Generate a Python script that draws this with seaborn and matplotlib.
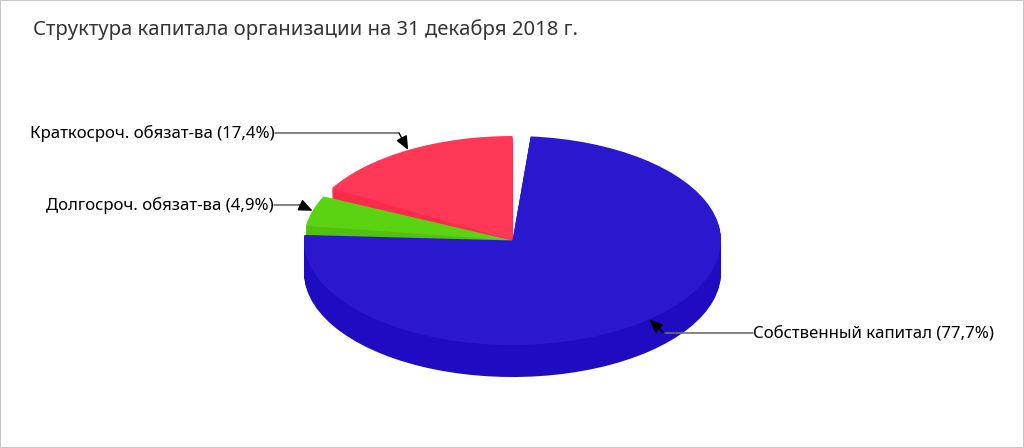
import numpy as np
import matplotlib
matplotlib.use("Agg")
import matplotlib.pyplot as plt
import seaborn as sns

# Chart data
title = "Структура капитала организации на 31 декабря 2018 г."
labels = ["Краткосроч. обязат-ва", "Долгосроч. обязат-ва", "Собственный капитал"]
shares = [17.4, 4.9, 77.7]
top_colors = ["#FF3857", "#5CD312", "#2A18CE"]
side_colors = ["#FF2A4B", "#52C00C", "#1F0BC1"]

# Geometry of the tilted pie, in pixels
W, H = 1024, 448
CX, CY = 512.5, 240.5
RX, RY = 208.5, 104.5
DEPTH = 32
GAP = 5  # degrees left empty after each slice

# Where each label line starts and where it bends
label_ends = [(275, 133), (274, 205), (753, 333)]
elbows = [(399, 133), (300, 205), (664, 333)]
label_ha = ["right", "right", "left"]

sns.set_theme(style="white")
plt.rcParams["font.family"] = ["Noto Sans", "DejaVu Sans"]


def to_data(px, py):
    """Convert picture pixels into the pie's data units."""
    return (px - CX) / RX, (CY - py) / RY


# Slices share 360 degrees minus the gaps, with an empty wedge after each one
scaled = [s * (360 - GAP * len(shares)) / sum(shares) for s in shares]
sizes = [v for s in scaled for v in (s, GAP)]


def draw_slice(ax, index, color, drop=0):
    colors = ["none"] * len(sizes)
    colors[index * 2] = color
    ax.pie(sizes, colors=colors, startangle=90, center=(0, -drop / RY), radius=1,
           wedgeprops={"linewidth": 0})


fig = plt.figure(figsize=(W / 100, H / 100), dpi=100, facecolor="white",
                 edgecolor="#C8C8C8", linewidth=1.44)
ax = fig.add_axes([0, 0, 1, 1])

# Side walls first, then the top face, slice by slice from back to front
for i in range(len(shares)):
    for d in range(DEPTH, 0, -1):
        draw_slice(ax, i, side_colors[i], d)
    draw_slice(ax, i, top_colors[i])

ax.set_aspect("auto")
ax.set_xlim(to_data(0, 0)[0], to_data(W, 0)[0])
ax.set_ylim(to_data(0, H)[1], to_data(0, 0)[1])
ax.axis("off")

# Leader lines go to the rim at the middle of each slice
start = 90
for i, s in enumerate(scaled):
    mid = np.radians(start + s / 2)
    start += s + GAP
    tip = (np.cos(mid), np.sin(mid))
    end = to_data(*label_ends[i])
    elbow = to_data(*elbows[i])
    ax.plot([end[0], elbow[0]], [end[1], elbow[1]], color="#6E6E6E", lw=1.2, zorder=5)
    ax.annotate("", xy=tip, xytext=elbow, zorder=6,
                arrowprops=dict(arrowstyle="-|>,head_length=0.7,head_width=0.3",
                                color="black", lw=1, shrinkA=0, shrinkB=0))
    text = f"{labels[i]} ({str(shares[i]).replace('.', ',')}%)"
    ax.text(end[0], end[1], text, ha=label_ha[i], va="center", fontsize=12.1,
            color="black", zorder=7)

fig.text(33 / W, 1 - 30 / H, title, ha="left", va="center", fontsize=14.6, color="#333333")

fig.savefig("out.png", dpi=100, facecolor="white", edgecolor=fig.get_edgecolor())
